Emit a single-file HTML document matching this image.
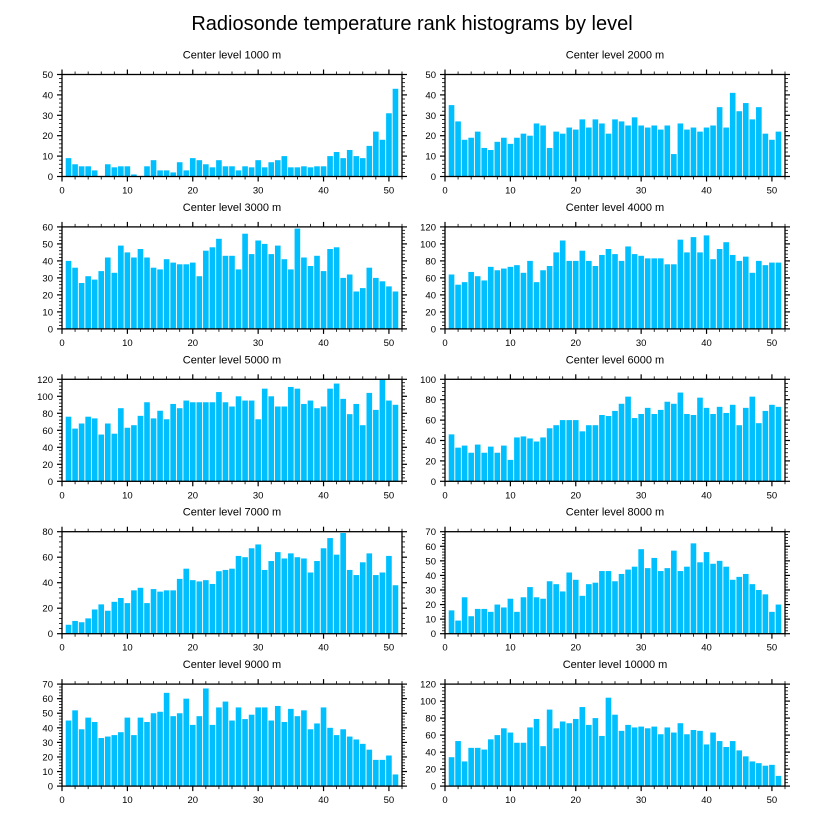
<!DOCTYPE html>
<html><head><meta charset="utf-8"><style>
html,body{margin:0;padding:0;background:#fff;}
svg{display:block;font-family:"Liberation Sans",sans-serif;}
</style></head><body>
<svg id="chart" width="824" height="824" viewBox="0 0 824 824" xmlns="http://www.w3.org/2000/svg">
<text x="412" y="30" text-anchor="middle" font-size="20">Radiosonde temperature rank histograms by level</text>
</svg>
<script>
const levels = ["1000","2000","3000","4000","5000","6000","7000","8000","9000","10000"];
const yMaxes = [50,50,60,120,120,100,80,70,70,120];
const yStepsMajor = [10,10,10,20,20,20,20,10,10,20];
const xTicks = [0,10,20,30,40,50];
const v1000 = [9,6,5,5,3,0,6,4.5,5,5,1,0,5,8,3,3,2,7,3,9,8,6,4.5,8,5,5,3,5,4.5,8,4.5,7,8,10,4.5,4.5,5,4.5,5,5,10,12,9,13,10,9,15,22,18,31,43];
const v2000 = [35,27,18,19,22,14,13,17,19,16,19,21,20,26,25,14,22,21,24,23,28,24,28,26,21,28,27,25,29,25,24,25,23,25,11,26,23,24,22,24,25,34,24,41,32,36,28,34,21,18,22];
const v3000 = [40,36,27,31,29,34,42,33,49,45,42,47,42,36,35,41,39,38,38,39,31,46,48,53,43,43,35,56,44,52,50,44,49,41,35,59,42,37,43,34,47,48,30,32,22,24,36,30,28,25,22];
const v4000 = [64,52,55,67,62,57,73,69,71,73,75,66,80,55,69,74,90,104,80,80,92,80,74,87,94,88,80,97,88,86,83,83,83,76,76,105,90,108,90,110,82,94,102,87,80,85,66,80,75,78,78];
const v5000 = [76,62,68,76,74,55,68,56,86,63,66,77,93,74,83,73,91,86,95,93,93,93,93,105,93,88,100,95,95,73,109,100,88,88,111,109,91,95,86,88,109,115,97,79,91,66,104,84,120,95,90];
const v6000 = [46,33,35,28,36,28,34,28,35,21,43,44,42,39,43,52,55,60,60,60,49,55,55,65,64,69,76,83,62,66,72,66,70,78,76,87,66,65,82,72,66,73,67,75,55,72,83,57,69,75,73];
const v7000 = [7,10,9,12,19,23,18,25,28,24,34,36,24,35,33,34,34,43,51,42,41,42,39,49,50,51,61,60,67,70,50,57,64,59,63,60,59,48,57,67,75,62,79,50,46,56,63,46,48,61,38];
const v8000 = [16,9,25,12,17,17,15,20,18,24,15,25,32,25,24,36,34,29,42,37,26,34,35,43,43,36,41,44,46,58,45,52,43,45,57,43,46,62,49,56,48,50,46,37,39,41,34,30,27,15,20];
const v9000 = [45,52,39,47,44,33,34,35,37,47,35,47,44,50,51,64,48,50,60,42,48,67,42,54,58,45,54,46,49,54,54,45,55,44,53,48,52,39,43,54,40,35,39,34,32,29,25,18,18,21,8];
const v10000 = [34,53,29,45,45,43,55,60,68,63,51,51,69,79,47,90,68,76,74,79,93,72,80,59,104,84,65,72,69,70,68,70,61,69,63,74,61,66,65,49,63,53,46,53,42,35,29,27,24,25,12];
const series = [v1000,v2000,v3000,v4000,v5000,v6000,v7000,v8000,v9000,v10000];

const NS="http://www.w3.org/2000/svg";
const svg=document.getElementById('chart');
function mk(tag,attrs,parent){const e=document.createElementNS(NS,tag);for(const k in attrs)e.setAttribute(k,attrs[k]);parent.appendChild(e);return e;}
const W=340,H=102,XMAX=52;
series.forEach((vals,i)=>{
  const col=i%2,row=Math.floor(i/2);
  const left=col?445:62, top=74.5+row*152.4;
  const g=mk('g',{},svg);
  
  
  const xs=x=>left+x/XMAX*W;
  const ys=y=>top+H-y/yMaxes[i]*H;
  const t=mk('text',{x:left+W/2,y:top-16,'text-anchor':'middle','font-size':'11'},g);
  t.textContent='Center level '+levels[i]+' m';
  
  
  vals.forEach((v,k)=>{
    const x=k+1;
    const r=mk('rect',{x:xs(x-0.43),y:ys(v),width:xs(0.86)-xs(0),height:Math.max(0,ys(0)-ys(v)),fill:'#00bfff'},g);
    
    
  });
  mk('rect',{x:left,y:top,width:W,height:H,fill:'none',stroke:'#000','stroke-width':'1.3'},g);
  // x ticks
  for(let x=0;x<=XMAX;x+=2){
    const major=x%10===0, L=major?5:3, px=xs(x);
    mk('line',{x1:px,y1:top+H,x2:px,y2:top+H+L,stroke:'#000','stroke-width':major?1.2:0.8},g);
    mk('line',{x1:px,y1:top,x2:px,y2:top-L,stroke:'#000','stroke-width':major?1.2:0.8},g);
  }
  xTicks.forEach(x=>{
    const tl=mk('text',{x:xs(x),y:top+H+17,'text-anchor':'middle','font-size':'9.5'},g);
    tl.textContent=x;
    
    
  });
  const ms=yStepsMajor[i], mn=ms/5;
  for(let y=0;y<=yMaxes[i]+1e-6;y+=mn){
    const major=Math.abs(y/ms-Math.round(y/ms))<1e-6, L=major?5:3, py=ys(y);
    mk('line',{x1:left,y1:py,x2:left-L,y2:py,stroke:'#000','stroke-width':major?1.2:0.8},g);
    mk('line',{x1:left+W,y1:py,x2:left+W+L,y2:py,stroke:'#000','stroke-width':major?1.2:0.8},g);
    if(major){
      const yl=mk('text',{x:left-9,y:py+3.5,'text-anchor':'end','font-size':'9.5'},g);
      yl.textContent=Math.round(y);
      
      
    }
  }
});
</script>
</body></html>
